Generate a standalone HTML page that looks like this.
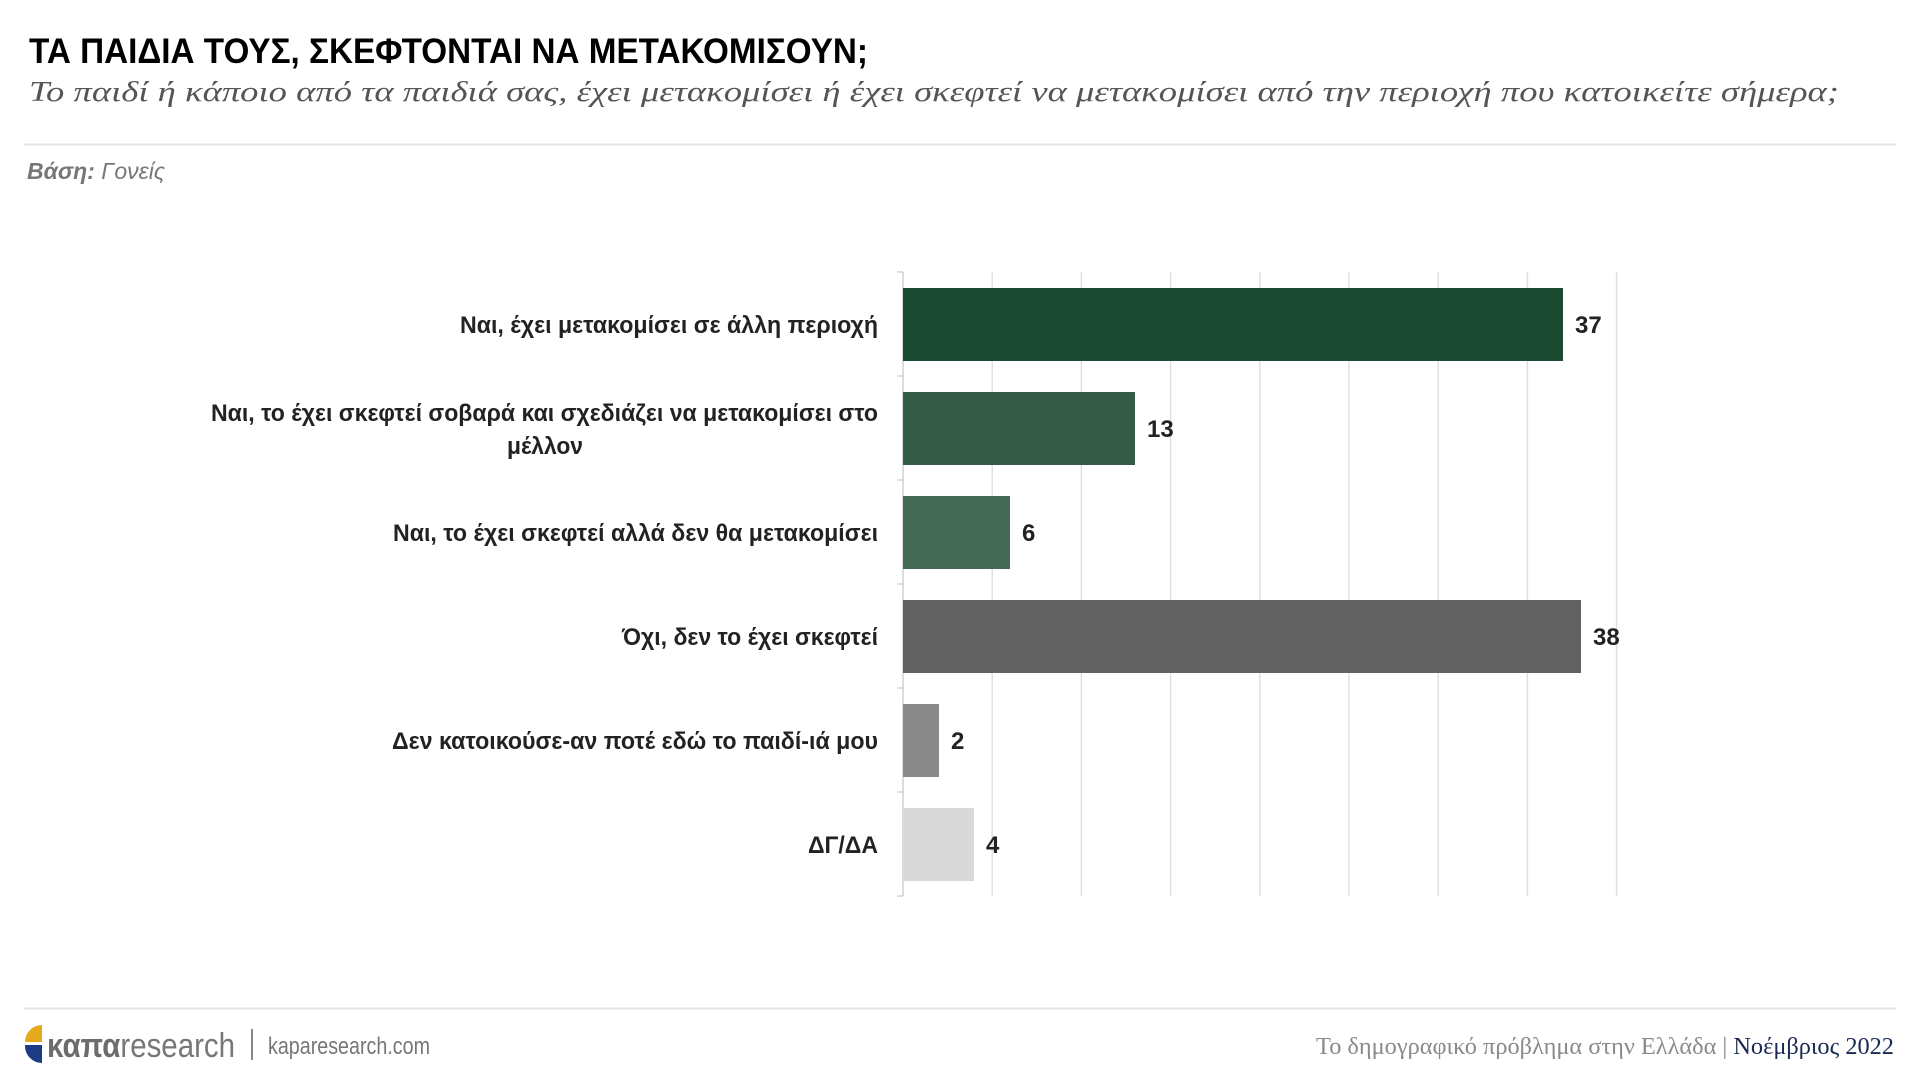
<!DOCTYPE html>
<html><head><meta charset="utf-8"><style>
html,body{margin:0;padding:0;background:#fff;width:1920px;height:1080px;overflow:hidden}
svg{display:block}
</style></head><body>
<svg width="1920" height="1080" viewBox="0 0 1920 1080" xmlns="http://www.w3.org/2000/svg">
<g font-family="'Liberation Sans Narrow','Liberation Sans',sans-serif">
<text x="29" y="63" font-size="35" font-weight="bold" fill="#000" textLength="839" lengthAdjust="spacingAndGlyphs">ΤΑ ΠΑΙΔΙΑ ΤΟΥΣ, ΣΚΕΦΤΟΝΤΑΙ ΝΑ ΜΕΤΑΚΟΜΙΣΟΥΝ;</text>
</g>
<text x="29" y="101" font-family="'Liberation Serif',serif" font-style="italic" font-size="29" fill="#555" textLength="1810" lengthAdjust="spacingAndGlyphs">Το παιδί ή κάποιο από τα παιδιά σας, έχει μετακομίσει ή έχει σκεφτεί να μετακομίσει από την περιοχή που κατοικείτε σήμερα;</text>
<line x1="24" y1="144.5" x2="1896" y2="144.5" stroke="#e3e3e3" stroke-width="2"/>
<text x="27" y="179" font-family="'Liberation Sans Narrow','Liberation Sans',sans-serif" font-style="italic" font-size="23" fill="#777"><tspan font-weight="bold">Βάση:</tspan> Γονείς</text>

<g stroke="#e0e0e0" stroke-width="1.5">
<line x1="992.2" y1="272" x2="992.2" y2="896"/>
<line x1="1081.4" y1="272" x2="1081.4" y2="896"/>
<line x1="1170.6" y1="272" x2="1170.6" y2="896"/>
<line x1="1259.8" y1="272" x2="1259.8" y2="896"/>
<line x1="1349" y1="272" x2="1349" y2="896"/>
<line x1="1438.2" y1="272" x2="1438.2" y2="896"/>
<line x1="1527.4" y1="272" x2="1527.4" y2="896"/>
<line x1="1616.6" y1="272" x2="1616.6" y2="896"/>
</g>
<g stroke="#d0d0d0" stroke-width="1.5">
<line x1="903" y1="272" x2="903" y2="896"/>
<line x1="897" y1="272" x2="903" y2="272"/>
<line x1="897" y1="376" x2="903" y2="376"/>
<line x1="897" y1="480" x2="903" y2="480"/>
<line x1="897" y1="584" x2="903" y2="584"/>
<line x1="897" y1="688" x2="903" y2="688"/>
<line x1="897" y1="792" x2="903" y2="792"/>
<line x1="897" y1="896" x2="903" y2="896"/>
</g>
<rect x="903" y="288" width="660" height="73" fill="#1a4a31"/>
<rect x="903" y="392" width="232" height="73" fill="#335b47"/>
<rect x="903" y="496" width="107" height="73" fill="#446a56"/>
<rect x="903" y="600" width="678" height="73" fill="#626262"/>
<rect x="903" y="704" width="36" height="73" fill="#8a8a8a"/>
<rect x="903" y="808" width="71" height="73" fill="#d9d9d9"/>

<g font-family="'Liberation Sans Narrow','Liberation Sans',sans-serif" font-weight="bold" font-size="24" fill="#222">
<text x="460" y="333" textLength="418" lengthAdjust="spacingAndGlyphs">Ναι, έχει μετακομίσει σε άλλη περιοχή</text>
<text x="211" y="421" textLength="667" lengthAdjust="spacingAndGlyphs">Ναι, το έχει σκεφτεί σοβαρά και σχεδιάζει να μετακομίσει στο</text>
<text x="507" y="454" textLength="76" lengthAdjust="spacingAndGlyphs">μέλλον</text>
<text x="393" y="541" textLength="485" lengthAdjust="spacingAndGlyphs">Ναι, το έχει σκεφτεί αλλά δεν θα μετακομίσει</text>
<text x="622" y="645" textLength="256" lengthAdjust="spacingAndGlyphs">Όχι, δεν το έχει σκεφτεί</text>
<text x="392" y="749" textLength="486" lengthAdjust="spacingAndGlyphs">Δεν κατοικούσε-αν ποτέ εδώ το παιδί-ιά μου</text>
<text x="808" y="853" textLength="70" lengthAdjust="spacingAndGlyphs">ΔΓ/ΔΑ</text>
<text x="1575" y="333">37</text>
<text x="1147" y="437">13</text>
<text x="1022" y="541">6</text>
<text x="1593" y="645">38</text>
<text x="951" y="749">2</text>
<text x="986" y="853">4</text>
</g>

<line x1="24" y1="1008.5" x2="1896" y2="1008.5" stroke="#e3e3e3" stroke-width="2"/>
<path d="M42,1042 L25,1042 A17,17 0 0 1 42,1025 Z" fill="#e6a91e"/>
<path d="M42,1045 L25,1045 A17,17 0 0 0 42,1063 Z" fill="#1d3b85"/>
<text x="47" y="1057" font-family="'Liberation Sans',sans-serif" font-size="34" fill="#777" textLength="188" lengthAdjust="spacingAndGlyphs"><tspan font-weight="bold" fill="#6c6c6c">καπα</tspan><tspan font-family="'Liberation Sans Narrow','Liberation Sans',sans-serif">research</tspan></text>
<line x1="252" y1="1029" x2="252" y2="1060" stroke="#888" stroke-width="2"/>
<text x="268" y="1054" font-family="'Liberation Sans Narrow','Liberation Sans',sans-serif" font-size="24" fill="#777" textLength="162" lengthAdjust="spacingAndGlyphs">kaparesearch.com</text>
<text x="1316" y="1054" font-family="'Liberation Serif',serif" font-size="24" fill="#8a8a8a" textLength="578" lengthAdjust="spacingAndGlyphs">Το δημογραφικό πρόβλημα στην Ελλάδα | <tspan fill="#1b2a55">Νοέμβριος 2022</tspan></text>
</svg>
</body></html>
